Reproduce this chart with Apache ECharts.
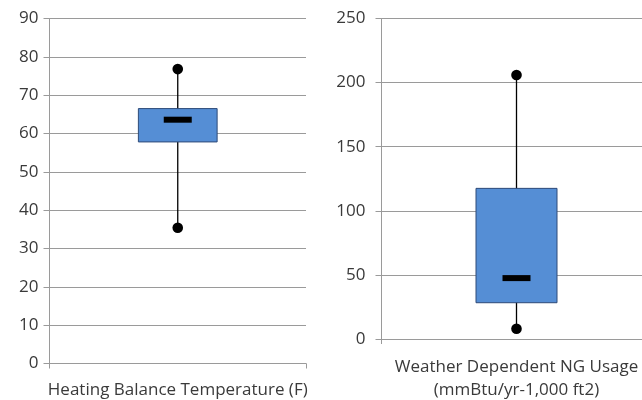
<!DOCTYPE html>
<html>
<head>
<meta charset="utf-8">
<style>
  html, body { margin: 0; padding: 0; background: #fff; overflow: hidden; }
  #chart { width: 662px; height: 400px; }
</style>
<script src="https://cdn.jsdelivr.net/npm/echarts@6/dist/echarts.min.js"></script>
</head>
<body>
<div id="chart"></div>
<script>
// Box-and-whisker summaries: [min, Q1, median, Q3, max]
const tempCategory = ['Heating Balance Temperature (F)'];
const tempStats = [35.4, 57.8, 63.6, 66.5, 76.8];
const usageCategory = ['Weather Dependent NG Usage\n(mmBtu/yr-1,000 ft2)'];
const usageStats = [8.0, 28.3, 47.5, 117.5, 205.9];

const tempTicks = { min: 0, max: 90, interval: 10 };
const usageTicks = { min: 0, max: 250, interval: 50 };

const FONT = 'Open Sans';
const TEXT_COLOR = '#3a3a3a';
const GRID_COLOR = '#9a9a9a';

function boxRenderer(widthRatio) {
  return function (params, api) {
    const x = api.value(0);
    const lo = api.coord([x, api.value(1)]);
    const q1 = api.coord([x, api.value(2)]);
    const md = api.coord([x, api.value(3)]);
    const q3 = api.coord([x, api.value(4)]);
    const hi = api.coord([x, api.value(5)]);
    const band = api.size([1, 0])[0];
    const w = band * widthRatio;
    const cx = q1[0];
    const medW = 28;
    return {
      type: 'group',
      children: [
        { type: 'line', shape: { x1: cx, y1: hi[1], x2: cx, y2: lo[1] },
          style: { stroke: '#000', lineWidth: 1.3 } },
        { type: 'rect', shape: { x: cx - w / 2, y: q3[1], width: w, height: q1[1] - q3[1] },
          style: { fill: '#558ed5', stroke: '#2e4a78', lineWidth: 1 } },
        { type: 'rect', shape: { x: cx - medW / 2, y: md[1] - 3, width: medW, height: 6 },
          style: { fill: '#000' } },
        { type: 'circle', shape: { cx: cx, cy: hi[1], r: 5.3 }, style: { fill: '#000' } },
        { type: 'circle', shape: { cx: cx, cy: lo[1], r: 5.3 }, style: { fill: '#000' } }
      ]
    };
  };
}

function yAxisCfg(gridIndex, ticks, margin) {
  return {
    gridIndex: gridIndex, type: 'value',
    min: ticks.min, max: ticks.max, interval: ticks.interval,
    axisLine: { show: true, lineStyle: { color: GRID_COLOR, width: 1 } },
    axisTick: { show: true, length: 6, lineStyle: { color: GRID_COLOR } },
    axisLabel: { color: TEXT_COLOR, fontFamily: FONT, fontSize: 17, margin: margin },
    splitLine: { show: true, lineStyle: { color: GRID_COLOR, width: 1 } }
  };
}

function xAxisCfg(gridIndex, cats, margin) {
  return {
    gridIndex: gridIndex, type: 'category', data: cats, boundaryGap: true,
    axisLine: { show: true, lineStyle: { color: GRID_COLOR, width: 1 } },
    axisTick: { show: true, length: 5, lineStyle: { color: GRID_COLOR } },
    axisLabel: { color: TEXT_COLOR, fontFamily: FONT, fontSize: 17, margin: margin, lineHeight: 23 }
  };
}

// The right-hand plot runs past the visible page edge, so the canvas is a bit wider than the window.
const chart = echarts.init(document.getElementById('chart'), null, { renderer: 'canvas' });
chart.setOption({
  animation: false,
  backgroundColor: '#fff',
  grid: [
    { left: 49.5, width: 256.5, top: 18.5, bottom: 36.5, outerBoundsMode: 'none' },
    { left: 381.5, width: 270, top: 18.5, bottom: 61, outerBoundsMode: 'none' }
  ],
  xAxis: [xAxisCfg(0, tempCategory, 15), xAxisCfg(1, usageCategory, 17)],
  yAxis: [yAxisCfg(0, tempTicks, 11), yAxisCfg(1, usageTicks, 16)],
  series: [
    { type: 'custom', xAxisIndex: 0, yAxisIndex: 0, renderItem: boxRenderer(0.307),
      encode: { x: 0, y: [1, 2, 3, 4, 5] },
      data: [[0].concat(tempStats)] },
    { type: 'custom', xAxisIndex: 1, yAxisIndex: 1, renderItem: boxRenderer(0.3),
      encode: { x: 0, y: [1, 2, 3, 4, 5] },
      data: [[0].concat(usageStats)] }
  ]
});
</script>
</body>
</html>
